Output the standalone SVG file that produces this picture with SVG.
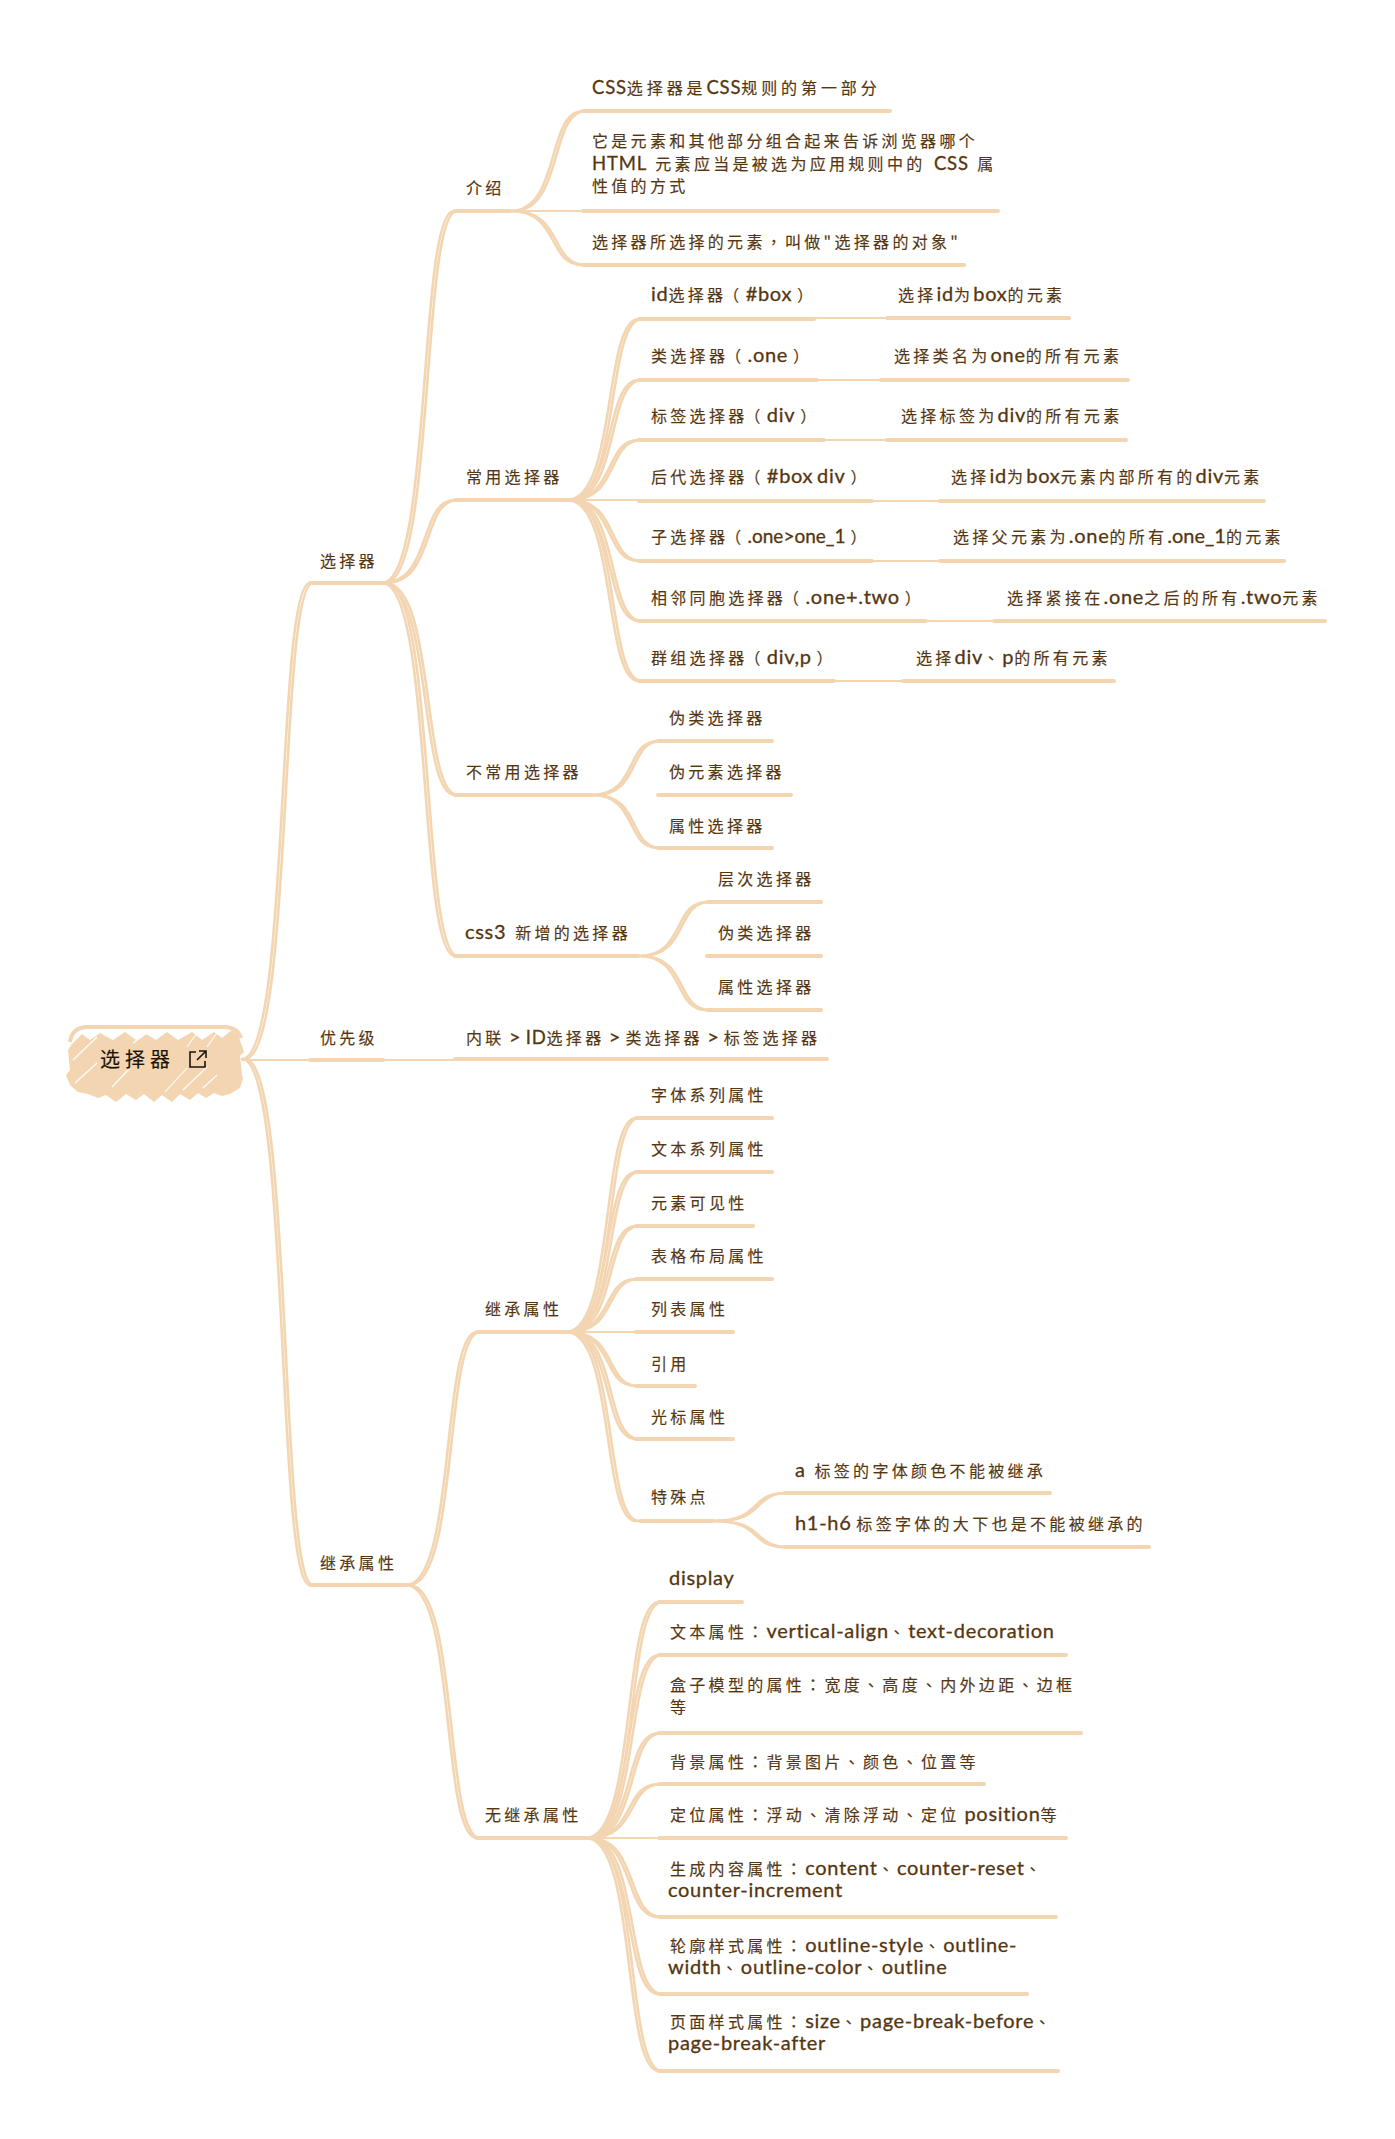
<svg xmlns="http://www.w3.org/2000/svg" width="1395" height="2139" viewBox="0 0 1395 2139">
<style>
text{font-family:"Noto Sans CJK SC",sans-serif;font-size:16px;fill:#553610;stroke:#553610;stroke-width:.15px;letter-spacing:3.3px;word-spacing:-2px}
.l{font-family:Lato,"Noto Sans",sans-serif;font-size:20px;letter-spacing:.7px;stroke-width:.3px}
.L{font-family:Lato,"Noto Sans",sans-serif;font-size:18.5px;letter-spacing:.8px;stroke-width:.3px}
.p{font-family:"Noto Sans CJK TC",sans-serif}
text.r{font-size:20px;fill:#1c1408;stroke:#1c1408;letter-spacing:5px}
.c{fill:none;stroke:#f3d5b2;stroke-width:2.6;stroke-linecap:round}
.u{fill:none;stroke:#f3d5b2;stroke-width:4;stroke-linecap:round}
.t{fill:none;stroke:#f3d5b2;stroke-width:2.2}
</style>
<defs>
<g id="strands" class="c">
<path d="M242 1059C290 1059 276 583 310 583"/>
<path d="M242 1059C290 1059 276 1585 310 1585"/>
<path d="M382 583C432 583 418 211 454 211"/>
<path d="M382 583C433 583 418 500 455 500"/>
<path d="M382 583C433 583 418 795 455 795"/>
<path d="M382 583C433 583 418 956 455 956"/>
<path d="M510 211C561 211 546 111 583 111"/>
<path d="M510 211C561 211 546 265 583 265"/>
<path d="M567 500C617 500 603 319 639 319"/>
<path d="M567 500C617 500 603 380 639 380"/>
<path d="M567 500C617 500 603 440 639 440"/>
<path d="M567 500C617 500 603 561 639 561"/>
<path d="M567 500C617 500 603 621 639 621"/>
<path d="M567 500C617 500 603 681 639 681"/>
<path d="M592 795C638 795 625 741 658 741"/>
<path d="M592 795C638 795 625 848 658 848"/>
<path d="M638 956C686 956 672 902 707 902"/>
<path d="M638 956C686 956 672 1010 707 1010"/>
<path d="M406 1585C456 1585 441 1332 477 1332"/>
<path d="M406 1585C456 1585 441 1838 477 1838"/>
<path d="M566 1332C615 1332 601 1118 636 1118"/>
<path d="M566 1332C615 1332 601 1172 636 1172"/>
<path d="M566 1332C615 1332 601 1226 636 1226"/>
<path d="M566 1332C615 1332 601 1279 636 1279"/>
<path d="M566 1332C615 1332 601 1386 636 1386"/>
<path d="M566 1332C615 1332 601 1439 636 1439"/>
<path d="M566 1332C615 1332 601 1521 636 1521"/>
<path d="M713 1521C763 1521 749 1493 785 1493"/>
<path d="M713 1521C763 1521 749 1547 785 1547"/>
<path d="M586 1838C637 1838 622 1602 659 1602"/>
<path d="M586 1838C637 1838 622 1655 659 1655"/>
<path d="M586 1838C637 1838 622 1733 659 1733"/>
<path d="M586 1838C637 1838 622 1784 659 1784"/>
<path d="M586 1838C637 1838 622 1917 659 1917"/>
<path d="M586 1838C637 1838 622 1994 659 1994"/>
<path d="M586 1838C637 1838 622 2071 659 2071"/>
</g>
</defs>
<g id="connectors">
<use href="#strands"/>
<use href="#strands" transform="translate(3,0)"/>
<g class="t">
<path d="M242 1060H310M383 1060H455M510 211H583M567 500H639M566 1332H636M586 1838H659"/>
<path d="M814 318H885M817 380H881M824 440H887M872 501H940M872 561H940M926 621H994M834 681H903"/>
</g>
<g class="u">
<path d="M310 583H382M310 1060H383M310 1585H406M455 211H510M455 500H567M455 795H592M455 956H638M477 1332H566M477 1838H586M455 1059H827"/>
<path d="M583 111H890M583 211H998M583 265H964"/>
<path d="M639 319H814M639 380H817M639 440H824M639 501H872M639 561H872M639 621H926M639 681H834"/>
<path d="M887 318H1069M881 380H1128M887 440H1126M940 501H1264M940 561H1284M994 621H1325M903 681H1114"/>
<path d="M658 741H772M658 795H791M658 848H772M707 902H821M707 956H821M707 1010H821"/>
<path d="M636 1118H772M636 1172H772M636 1226H753M636 1279H772M636 1332H733M636 1386H695M636 1439H733M640 1521H713"/>
<path d="M785 1493H1050M785 1547H1149"/>
<path d="M659 1602H742M659 1655H1066M659 1733H1081M659 1784H984M659 1838H1066M659 1917H1056M659 1994H1027M659 2071H1058"/>
</g>
</g>
<g id="root">
<path fill="#f3d5b2" d="M72 1044L82 1034L90 1040L100 1033L113 1040L125 1032L136 1040L146 1034L156 1040L167 1032L178 1040L192 1032L202 1040L214 1032L222 1038L232 1030L238 1035L242 1046L244 1052L240 1056L242 1075L243 1078L240 1088L230 1094L222 1096L214 1093L206 1098L198 1093L190 1100L180 1094L172 1102L162 1095L154 1102L144 1094L136 1100L126 1094L116 1102L106 1095L98 1098L88 1094L78 1092L70 1085L66 1075L70 1070L68 1050Z"/>
<path fill="none" stroke="#f3d5b2" stroke-width="4" d="M70 1042Q72 1028 86 1027H226Q238 1028 241 1038"/>
<path fill="none" stroke="#fff" stroke-width="1.1" d="M75 1083L97 1063M112 1087L130 1068M165 1092L187 1068M183 1090L207 1067M203 1088L217 1075M73 1060L97 1037M133 1043L147 1033M187 1047L197 1033M207 1047L217 1033"/>
<text class="r" x="100" y="1067">选择器</text>
<path fill="none" stroke="#1c1408" stroke-width="1.6" d="M196 1052H190V1067H205V1061M199 1051H206V1058M206 1051L197 1060"/>
</g>
<g id="n-l1a"><text x="320" y="567">选择器</text></g>
<g id="n-l1b"><text x="320" y="1044">优先级</text></g>
<g id="n-l1c"><text x="320" y="1569">继承属性</text></g>
<g id="n-intro"><text x="466" y="194">介绍</text></g>
<g id="n-i1"><text x="592" y="94" style="letter-spacing:3.9px"><tspan class="L">CSS</tspan>选择器是<tspan class="L">CSS</tspan>规则的第一部分</text></g>
<g id="n-i2"><text x="592" y="147">它是元素和其他部分组合起来告诉浏览器哪个</text><text x="592" y="170" style="word-spacing:1.5px"><tspan class="L">HTML</tspan> 元素应当是被选为应用规则中的 <tspan class="L">CSS</tspan> 属</text><text x="592" y="192">性值的方式</text></g>
<g id="n-i3"><text x="592" y="248">选择器所选择的元素<tspan class="p">，</tspan>叫做"选择器的对象"</text></g>
<g id="n-common"><text x="466" y="483">常用选择器</text></g>
<g id="n-c1"><text x="651" y="301"><tspan class="l">id</tspan>选择器<tspan dx="-3">（</tspan><tspan class="l" dx="3">#box</tspan> ）</text><text x="898" y="301">选择<tspan class="l">id</tspan>为<tspan class="l">box</tspan>的元素</text></g>
<g id="n-c2"><text x="651" y="362">类选择器<tspan dx="-3">（</tspan><tspan class="l" dx="3">.one</tspan> ）</text><text x="894" y="362">选择类名为<tspan class="l">one</tspan>的所有元素</text></g>
<g id="n-c3"><text x="651" y="422">标签选择器<tspan dx="-3">（</tspan><tspan class="l" dx="3">div</tspan> ）</text><text x="901" y="422">选择标签为<tspan class="l">div</tspan>的所有元素</text></g>
<g id="n-c4"><text x="651" y="483">后代选择器<tspan dx="-3">（</tspan><tspan class="l" dx="3">#box div</tspan> ）</text><text x="951" y="483">选择<tspan class="l">id</tspan>为<tspan class="l">box</tspan>元素内部所有的<tspan class="l">div</tspan>元素</text></g>
<g id="n-c5"><text x="651" y="543">子选择器<tspan dx="-3">（</tspan><tspan class="l" dx="3" style="letter-spacing:0;font-size:19px">.one&gt;one_1</tspan> ）</text><text x="953" y="543">选择父元素为<tspan class="l">.one</tspan>的所有<tspan class="l" style="letter-spacing:0">.one_1</tspan>的元素</text></g>
<g id="n-c6"><text x="651" y="604">相邻同胞选择器<tspan dx="-3">（</tspan><tspan class="l" dx="3">.one+.two</tspan> ）</text><text x="1007" y="604">选择紧接在<tspan class="l">.one</tspan>之后的所有<tspan class="l">.two</tspan>元素</text></g>
<g id="n-c7"><text x="651" y="664">群组选择器<tspan dx="-3">（</tspan><tspan class="l" dx="3">div,p</tspan> ）</text><text x="916" y="664">选择<tspan class="l">div</tspan><tspan class="p">、</tspan><tspan class="l">p</tspan>的所有元素</text></g>
<g id="n-rare"><text x="466" y="778">不常用选择器</text></g>
<g id="n-r1"><text x="669" y="724">伪类选择器</text></g>
<g id="n-r2"><text x="669" y="778">伪元素选择器</text></g>
<g id="n-r3"><text x="669" y="832">属性选择器</text></g>
<g id="n-css3"><text x="465" y="939" style="word-spacing:2px"><tspan class="l">css3</tspan> 新增的选择器</text></g>
<g id="n-s1"><text x="718" y="885">层次选择器</text></g>
<g id="n-s2"><text x="718" y="939">伪类选择器</text></g>
<g id="n-s3"><text x="718" y="993">属性选择器</text></g>
<g id="n-prio"><text x="466" y="1044" style="word-spacing:-2.5px">内联 <tspan class="l">&gt;</tspan> <tspan class="L">ID</tspan>选择器 <tspan class="l">&gt;</tspan> 类选择器 <tspan class="l">&gt;</tspan> 标签选择器</text></g>
<g id="n-inh"><text x="485" y="1315">继承属性</text></g>
<g id="n-h1"><text x="651" y="1101">字体系列属性</text></g>
<g id="n-h2"><text x="651" y="1155">文本系列属性</text></g>
<g id="n-h3"><text x="651" y="1209">元素可见性</text></g>
<g id="n-h4"><text x="651" y="1262">表格布局属性</text></g>
<g id="n-h5"><text x="651" y="1315">列表属性</text></g>
<g id="n-h6"><text x="651" y="1370">引用</text></g>
<g id="n-h7"><text x="651" y="1423">光标属性</text></g>
<g id="n-h8"><text x="651" y="1503">特殊点</text></g>
<g id="n-h81"><text x="795" y="1477" style="word-spacing:2px"><tspan class="l">a</tspan> 标签的字体颜色不能被继承</text></g>
<g id="n-h82"><text x="795" y="1530"><tspan class="l">h1-h6</tspan> 标签字体的大下也是不能被继承的</text></g>
<g id="n-non"><text x="485" y="1821">无继承属性</text></g>
<g id="n-n1"><text x="669" y="1585"><tspan class="l">display</tspan></text></g>
<g id="n-n2"><text x="670" y="1638">文本属性<tspan class="p">：</tspan><tspan class="l">vertical-align</tspan><tspan class="p">、</tspan><tspan class="l">text-decoration</tspan></text></g>
<g id="n-n3"><text x="670" y="1691">盒子模型的属性<tspan class="p">：</tspan>宽度<tspan class="p">、</tspan>高度<tspan class="p">、</tspan>内外边距<tspan class="p">、</tspan>边框</text><text x="670" y="1713">等</text></g>
<g id="n-n4"><text x="670" y="1768">背景属性<tspan class="p">：</tspan>背景图片<tspan class="p">、</tspan>颜色<tspan class="p">、</tspan>位置等</text></g>
<g id="n-n5"><text x="670" y="1821">定位属性<tspan class="p">：</tspan>浮动<tspan class="p">、</tspan>清除浮动<tspan class="p">、</tspan>定位 <tspan class="l">position</tspan>等</text></g>
<g id="n-n6"><text x="670" y="1875">生成内容属性<tspan class="p">：</tspan><tspan class="l">content</tspan><tspan class="p">、</tspan><tspan class="l">counter-reset</tspan><tspan class="p">、</tspan></text><text x="668" y="1897"><tspan class="l">counter-increment</tspan></text></g>
<g id="n-n7"><text x="670" y="1952">轮廓样式属性<tspan class="p">：</tspan><tspan class="l">outline-style</tspan><tspan class="p">、</tspan><tspan class="l">outline-</tspan></text><text x="668" y="1974"><tspan class="l">width</tspan><tspan class="p">、</tspan><tspan class="l">outline-color</tspan><tspan class="p">、</tspan><tspan class="l">outline</tspan></text></g>
<g id="n-n8"><text x="670" y="2028">页面样式属性<tspan class="p">：</tspan><tspan class="l">size</tspan><tspan class="p">、</tspan><tspan class="l">page-break-before</tspan><tspan class="p">、</tspan></text><text x="668" y="2050"><tspan class="l">page-break-after</tspan></text></g>
</svg>
